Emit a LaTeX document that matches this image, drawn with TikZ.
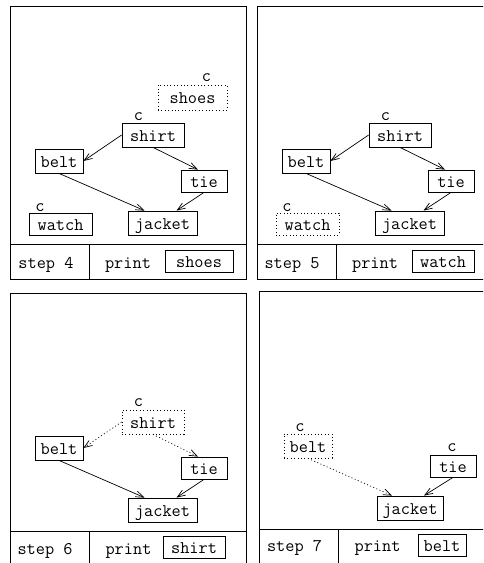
\documentclass[tikz,border=0pt]{standalone}
\usepackage{fontspec}
\usetikzlibrary{arrows.meta,calc}
\newcommand\panelframe{%
  \draw[frame] (10,6) rectangle (246,279);
  \draw[frame] (10,244.5) -- (246,244.5);
  \draw[frame] (89,244.5) -- (89,279);
}
\begin{document}
\begin{tikzpicture}[x=1pt,y=-1pt,
  font=\ttfamily\fontsize{17.8}{20}\selectfont,
  frame/.style={draw, line width=0.9pt},
  item/.style={draw, line width=0.8pt, inner sep=0pt, text height=12pt, text depth=0pt},
  gone/.style={item, dash pattern=on 1pt off 2.4pt},
  clabel/.style={inner sep=0pt},
  txt/.style={inner sep=0pt, text height=12pt, text depth=0pt},
  arr/.style={-{Straight Barb[length=8pt,width=6pt]}, line width=0.7pt},
  darr/.style={arr, dash pattern=on 1pt off 2.4pt},
  wd/.style={minimum width=#1},
  ht/.style={minimum height=#1}
]
\useasboundingbox (0,0) rectangle (483,563);
\clip (0,0) rectangle (483,563);

% ---------- panel 1: step 4 ----------
\begin{scope}
  \panelframe
  \node[gone, wd=69pt, ht=25pt] (s1) at (192.5,97.5) {shoes};
  \node[clabel] (c1a) at (206.5,77.5) {c};
  \node[item, wd=62pt, ht=24pt] (sh1) at (153,135) {shirt};
  \node[clabel] (c1b) at (138.5,117) {c};
  \node[item, wd=48pt, ht=24pt] (b1) at (59,161) {belt};
  \node[item, wd=46pt, ht=22pt] (t1) at (204,181) {tie};
  \node[item, wd=63pt, ht=22pt] (w1) at (60.5,224) {watch};
  \node[clabel] (c1c) at (40,207.5) {c};
  \node[item, wd=69pt, ht=24pt] (j1) at (162.5,223) {jacket};
  \draw[arr] (sh1.west) -- (b1.east);
  \draw[arr] (sh1.south) -- ($(t1.north)+(-6,0)$);
  \draw[arr] (b1.south) -- ($(j1.north)+(-18,0)$);
  \draw[arr] (t1.south) -- ($(j1.north)+(14,0)$);
  \node[txt] (st1) at (46,262) {step 4};
  \node[txt] (pr1) at (128,262) {print};
  \node[item, wd=68pt, ht=22pt] (o1) at (199,261.5) {shoes};
\end{scope}

% ---------- panel 2: step 5 ----------
\begin{scope}[shift={(247,0)}]
  \panelframe
  \node[item, wd=62pt, ht=24pt] (sh2) at (153,135) {shirt};
  \node[clabel] (c2b) at (138.5,117) {c};
  \node[item, wd=48pt, ht=24pt] (b2) at (59,161) {belt};
  \node[item, wd=46pt, ht=22pt] (t2) at (204,181) {tie};
  \node[gone, wd=63pt, ht=22pt] (w2) at (60.5,224) {watch};
  \node[clabel] (c2c) at (40,207.5) {c};
  \node[item, wd=69pt, ht=24pt] (j2) at (162.5,223) {jacket};
  \draw[arr] (sh2.west) -- (b2.east);
  \draw[arr] (sh2.south) -- ($(t2.north)+(-6,0)$);
  \draw[arr] (b2.south) -- ($(j2.north)+(-18,0)$);
  \draw[arr] (t2.south) -- ($(j2.north)+(14,0)$);
  \node[txt] (st2) at (45,262) {step 5};
  \node[txt] (pr2) at (128,262) {print};
  \node[item, wd=62pt, ht=22pt] (o2) at (196,261.5) {watch};
\end{scope}

% ---------- panel 3: step 6 ----------
\begin{scope}[shift={(0,287)}]
  \panelframe
  \node[gone, wd=62pt, ht=24pt] (sh3) at (153,135) {shirt};
  \node[clabel] (c3b) at (138.5,116) {c};
  \node[item, wd=48pt, ht=24pt] (b3) at (59,161) {belt};
  \node[item, wd=46pt, ht=22pt] (t3) at (204,181) {tie};
  \node[item, wd=69pt, ht=24pt] (j3) at (162.5,223) {jacket};
  \draw[darr] (sh3.west) -- (b3.east);
  \draw[darr] (sh3.south) -- ($(t3.north)+(-6,0)$);
  \draw[arr] (b3.south) -- ($(j3.north)+(-18,0)$);
  \draw[arr] (t3.south) -- ($(j3.north)+(14,0)$);
  \node[txt] (st3) at (45,261) {step 6};
  \node[txt] (pr3) at (128.5,261) {print};
  \node[item, wd=62pt, ht=22pt] (o3) at (194,260.5) {shirt};
\end{scope}

% ---------- panel 4: step 7 ----------
\begin{scope}[shift={(249,285)}]
  \panelframe
  \node[gone, wd=48pt, ht=24pt] (b4) at (59,161) {belt};
  \node[clabel] (c4a) at (51,143) {c};
  \node[item, wd=46pt, ht=22pt] (t4) at (204,181) {tie};
  \node[clabel] (c4b) at (203,163) {c};
  \node[item, wd=66pt, ht=24pt] (j4) at (161,223) {jacket};
  \draw[darr] (b4.south) -- ($(j4.north)+(-18,0)$);
  \draw[arr] (t4.south) -- ($(j4.north)+(14,0)$);
  \node[txt] (st4) at (45.5,260) {step 7};
  \node[txt] (pr4) at (128.5,260) {print};
  \node[item, wd=48pt, ht=22pt] (o4) at (193,260.5) {belt};
\end{scope}
\end{tikzpicture}
\end{document}
